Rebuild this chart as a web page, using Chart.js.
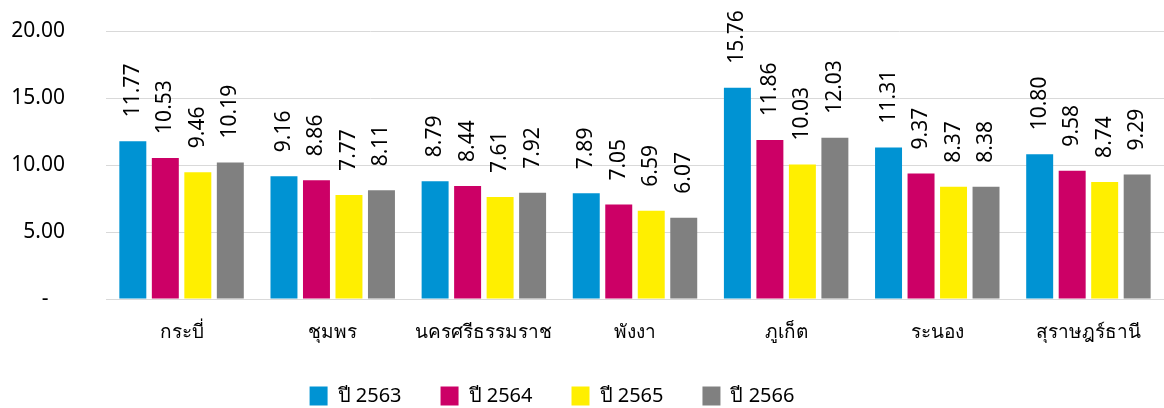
<!DOCTYPE html>
<html>
<head>
<meta charset="utf-8">
<script src="https://cdn.jsdelivr.net/npm/chart.js@4"></script>
<style>
  html, body { margin: 0; padding: 0; background: #fff; }
  #wrap { width: 1164px; height: 408px; }
</style>
</head>
<body>
<div id="wrap"><canvas id="rateChart"></canvas></div>
<script>
const provinces = ["กระบี่", "ชุมพร", "นครศรีธรรมราช", "พังงา", "ภูเก็ต", "ระนอง", "สุราษฎร์ธานี"];
const seriesNames = ["ปี 2563", "ปี 2564", "ปี 2565", "ปี 2566"];
const y2563 = [11.77, 9.16, 8.79, 7.89, 15.76, 11.31, 10.80];
const y2564 = [10.53, 8.86, 8.44, 7.05, 11.86, 9.37, 9.58];
const y2565 = [9.46, 7.77, 7.61, 6.59, 10.03, 8.37, 8.74];
const y2566 = [10.19, 8.11, 7.92, 6.07, 12.03, 8.38, 9.29];
const yTicks = [0, 5, 10, 15, 20];

const colors = ["#0093D3", "#CC0066", "#FFEF00", "#808080"];
const fontFamily = "'Noto Sans', 'DejaVu Sans', sans-serif";

// vertical value labels above each bar
const valueLabels = {
  id: "valueLabels",
  afterLayout(chart) {
    // legend in the original sits a bit left of centre
    if (chart.legend) {
      chart.legend.left -= 30;
      chart.legend.right -= 30;
    }
  },
  afterDatasetsDraw(chart) {
    const ctx = chart.ctx;
    ctx.save();
    ctx.fillStyle = "#000";
    ctx.font = "21px " + fontFamily;
    ctx.textAlign = "left";
    ctx.textBaseline = "middle";
    chart.data.datasets.forEach((ds, i) => {
      chart.getDatasetMeta(i).data.forEach((bar, j) => {
        ctx.save();
        ctx.translate(bar.x, bar.y - 24);
        ctx.rotate(-Math.PI / 2);
        ctx.fillText(ds.data[j].toFixed(2), 0, 0);
        ctx.restore();
      });
    });
    ctx.restore();
  },
};

const ctx = document.getElementById("rateChart").getContext("2d");
new Chart(ctx, {
  type: "bar",
  data: {
    labels: provinces,
    datasets: [y2563, y2564, y2565, y2566].map((d, i) => ({
      label: seriesNames[i],
      data: d,
      backgroundColor: colors[i],
      categoryPercentage: 0.86,
      barPercentage: 0.83,
    })),
  },
  options: {
    responsive: true,
    maintainAspectRatio: false,
    animation: false,
    layout: { padding: { top: 31, right: 0, left: 0, bottom: 0 } },
    plugins: {
      legend: {
        position: "bottom",
        maxHeight: 61,
        labels: {
          boxWidth: 18,
          boxHeight: 19,
          padding: 39,
          color: "#000",
          font: { size: 20, family: fontFamily },
        },
      },
      tooltip: { enabled: false },
    },
    scales: {
      x: {
        afterFit: (scale) => { scale.height = 48; },
        grid: { display: false, drawTicks: false },
        border: { color: "#d9d9d9", width: 1 },
        ticks: { color: "#000", padding: 22, font: { size: 19, family: fontFamily } },
      },
      y: {
        min: 0,
        max: 20,
        afterFit: (scale) => {
          scale.width = 106;
          scale.paddingTop = 0;
          scale.paddingBottom = 0;
        },
        afterBuildTicks: (scale) => { scale.ticks = yTicks.map((v) => ({ value: v })); },
        grid: { color: "#d9d9d9", lineWidth: 1, drawTicks: false },
        border: { display: false },
        ticks: {
          color: "#000",
          padding: 41,
          font: { size: 21, family: fontFamily },
          callback: (v) => (v === 0 ? "-   " : v.toFixed(2)),
        },
      },
    },
  },
  plugins: [valueLabels],
});
</script>
</body>
</html>
